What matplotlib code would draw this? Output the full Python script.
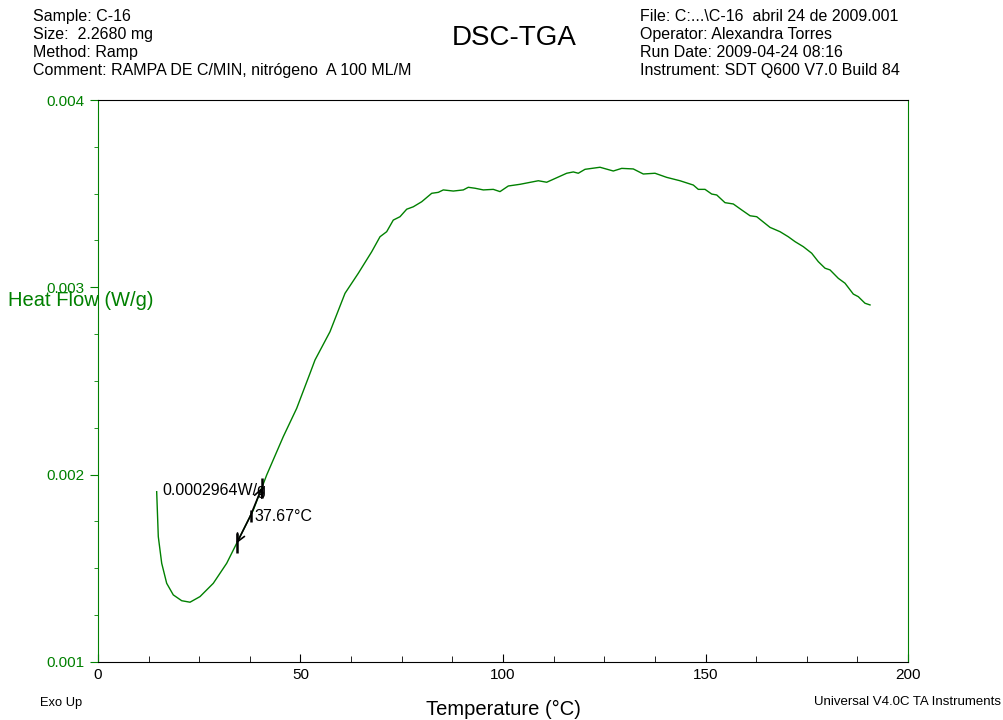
import numpy as np
import matplotlib.pyplot as plt
from matplotlib.ticker import MultipleLocator

plt.rcParams['font.family'] = ['Liberation Sans', 'DejaVu Sans']

# heat flow trace (temperature in C, heat flow in W/g)
temp = [14.49, 14.89, 15.73, 16.96, 18.59, 20.67, 22.72, 25.19, 28.47, 31.78,
        35.06, 38.35, 41.65, 45.75, 49.06, 52.35, 53.58, 57.28, 60.99, 64.27,
        67.58, 69.63, 71.28, 72.91, 74.57, 76.22, 77.85, 79.93, 82.40, 84.02,
        85.26, 87.73, 90.20, 91.43, 93.09, 95.14, 97.60, 99.26, 101.31, 104.20,
        108.72, 110.79, 113.26, 115.73, 117.36, 118.59, 120.25, 123.95, 127.23, 129.31,
        132.17, 134.64, 137.53, 140.42, 143.70, 146.99, 148.22, 149.88, 151.53, 152.77,
        154.81, 156.86, 158.94, 161.00, 162.64, 165.93, 168.40, 170.44, 172.10, 174.15,
        176.22, 177.85, 179.51, 180.74, 182.79, 184.44, 186.49, 187.73, 189.38, 190.62]
heat_flow = [0.001909, 0.001669, 0.001527, 0.001420, 0.001358, 0.001327, 0.001319, 0.001349, 0.001420, 0.001527,
             0.001669, 0.001811, 0.001998, 0.002203, 0.002354, 0.002541, 0.002612, 0.002763, 0.002968, 0.003075,
             0.003190, 0.003270, 0.003297, 0.003359, 0.003377, 0.003417, 0.003430, 0.003457, 0.003502, 0.003507,
             0.003520, 0.003514, 0.003520, 0.003534, 0.003529, 0.003520, 0.003523, 0.003511, 0.003541, 0.003550,
             0.003569, 0.003561, 0.003585, 0.003609, 0.003616, 0.003609, 0.003630, 0.003641, 0.003621, 0.003635,
             0.003632, 0.003605, 0.003609, 0.003587, 0.003569, 0.003546, 0.003523, 0.003523, 0.003498, 0.003493,
             0.003452, 0.003445, 0.003413, 0.003382, 0.003377, 0.003320, 0.003297, 0.003270, 0.003244, 0.003217,
             0.003182, 0.003137, 0.003102, 0.003093, 0.003048, 0.003022, 0.002964, 0.002950, 0.002915, 0.002906]

# glass transition result
tg = 37.67
step = 0.0002964

header_left = ['Sample: C-16', 'Size:  2.2680 mg', 'Method: Ramp',
               'Comment: RAMPA DE C/MIN, nitrógeno  A 100 ML/M']
header_right = ['File: C:...\\C-16  abril 24 de 2009.001', 'Operator: Alexandra Torres',
                'Run Date: 2009-04-24 08:16', 'Instrument: SDT Q600 V7.0 Build 84']

green = '#008000'

fig = plt.figure(figsize=(10.04, 7.2), dpi=100)
ax = fig.add_axes([0.0976, 0.0806, 0.8068, 0.7805])

ax.plot(temp, heat_flow, color=green, lw=1.0)

ax.set_xlim(0, 200)
ax.set_ylim(0.001, 0.004)

# step marks: rising part of the curve only
rise_t = np.array(temp[6:20])
rise_h = np.array(heat_flow[6:20])
h_mid = np.interp(tg, rise_t, rise_h)
h_lo, h_hi = h_mid - step / 2, h_mid + step / 2
t_lo = np.interp(h_lo, rise_h, rise_t)
t_hi = np.interp(h_hi, rise_h, rise_t)

arrow = dict(arrowstyle='->', color='black', lw=1.2, shrinkA=0, shrinkB=0, mutation_scale=14)
ax.annotate('', xy=(t_lo, h_lo), xytext=(tg, h_mid), arrowprops=arrow)
ax.annotate('', xy=(t_hi, h_hi), xytext=(tg, h_mid), arrowprops=arrow)
ax.plot([t_lo, t_hi], [h_lo, h_hi], ls='none', marker='|', ms=15, mew=1.8, color='black')
ax.plot([tg], [h_mid], ls='none', marker='|', ms=9, mew=1.8, color='black')
ax.text(16.0, 0.001913, '%.7fW/g' % step, fontsize=11.5, va='center', ha='left')
ax.text(tg + 1.0, 0.001774, '%.2f°C' % tg, fontsize=11.5, va='center', ha='left')

# axes styling
for side in ('left', 'right'):
    ax.spines[side].set_color(green)
ax.spines['top'].set_color('black')
ax.spines['bottom'].set_color('black')

ax.xaxis.set_major_locator(MultipleLocator(50))
ax.xaxis.set_minor_locator(MultipleLocator(12.5))
ax.yaxis.set_major_locator(MultipleLocator(0.001))
ax.yaxis.set_minor_locator(MultipleLocator(0.00025))
ax.tick_params(axis='x', which='major', direction='in', length=6, labelsize=11, pad=4)
ax.tick_params(axis='x', which='minor', direction='in', length=4)
ax.tick_params(axis='y', which='major', direction='out', length=6, labelsize=11,
               colors=green, labelcolor=green)
ax.tick_params(axis='y', which='minor', direction='out', length=3, colors=green)
ax.set_yticklabels(['%.3f' % v for v in ax.get_yticks()])

ax.set_xlabel('Temperature (°C)', fontsize=14.5, labelpad=13)
fig.text(0.008, 0.583, 'Heat Flow (W/g)', fontsize=14.5, color=green, va='center', ha='left')

fig.text(0.033, 0.988, '\n'.join(header_left), fontsize=11.5, va='top', ha='left', linespacing=1.27)
fig.text(0.637, 0.988, '\n'.join(header_right), fontsize=11.5, va='top', ha='left', linespacing=1.27)
fig.text(0.512, 0.947, 'DSC-TGA', fontsize=20, va='center', ha='center')
fig.text(0.040, 0.024, 'Exo Up', fontsize=9.3, va='center', ha='left')
fig.text(0.997, 0.025, 'Universal V4.0C TA Instruments', fontsize=9.5, va='center', ha='right')

fig.savefig('out.png', dpi=100)
